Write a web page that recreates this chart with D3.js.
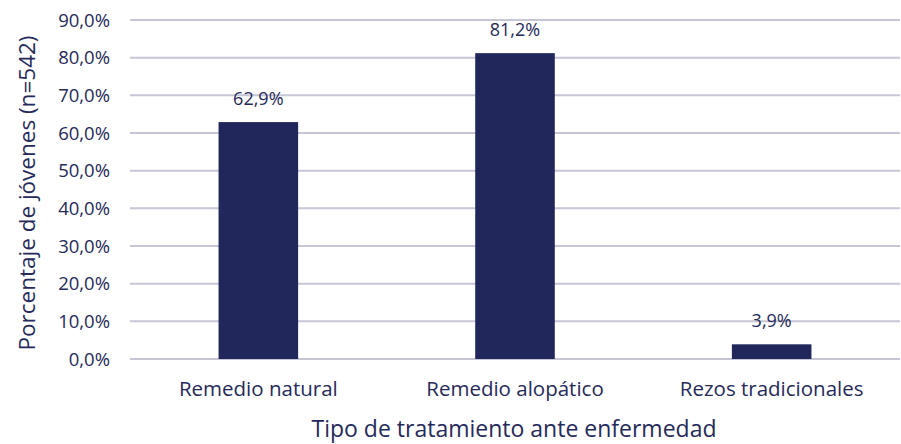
<!DOCTYPE html>
<html>
<head>
<meta charset="utf-8">
<script src="https://cdn.jsdelivr.net/npm/d3@7"></script>
<style>
  body { margin: 0; background: #fff; }
  text { font-family: "Open Sans", sans-serif; fill: #262a5a; }
</style>
</head>
<body>
<div id="chart"></div>
<script>
var categories = ["Remedio natural", "Remedio alopático", "Rezos tradicionales"];
var values = [62.9, 81.2, 3.9];
var valueLabels = ["62,9%", "81,2%", "3,9%"];
var yTicks = [0, 10, 20, 30, 40, 50, 60, 70, 80, 90];

var w_svg = 901, h_svg = 444;
var m_left = 130, m_right = 900, m_top = 20, m_bottom = 359;
var color_bar = "#22275b";

var svg = d3.select("#chart")
  .append("svg")
  .attr("width", w_svg)
  .attr("height", h_svg);

var x = d3.scaleBand().domain(categories).range([m_left, m_right]).paddingInner(0.69).paddingOuter(0.345);
var y = d3.scaleLinear().domain([0, 90]).range([m_bottom, m_top]);

// gridlines
svg.selectAll("line.grid")
  .data(yTicks)
  .enter()
  .append("line")
  .attr("x1", m_left)
  .attr("x2", m_right)
  .attr("y1", function(d) { return y(d) })
  .attr("y2", function(d) { return y(d) })
  .style("stroke", "#c6c6d6")
  .style("stroke-width", "2px");

// y tick labels
svg.selectAll("text.ytick")
  .data(yTicks)
  .enter()
  .append("text")
  .attr("x", 110)
  .attr("y", function(d) { return y(d) + 6.5 })
  .style("text-anchor", "end")
  .style("font-size", "18.5px")
  .style("font-weight", 500)
  .text(function(d) { return d.toFixed(1).replace(".", ",") + "%" });

var bars = d3.range(categories.length);

svg.selectAll("rect")
  .data(bars)
  .enter()
  .append("rect")
  .attr("x", function(i) { return x(categories[i]) })
  .attr("y", function(i) { return y(values[i]) })
  .attr("width", x.bandwidth())
  .attr("height", function(i) { return y(0) - y(values[i]) })
  .style("fill", color_bar);

// value labels
svg.selectAll("text.val")
  .data(bars)
  .enter()
  .append("text")
  .attr("x", function(i) { return x(categories[i]) + x.bandwidth() / 2 })
  .attr("y", function(i) { return y(values[i]) - 17 })
  .style("text-anchor", "middle")
  .style("font-size", "18px")
  .style("font-weight", 500)
  .text(function(i) { return valueLabels[i] });

// category labels
svg.selectAll("text.cat")
  .data(categories)
  .enter()
  .append("text")
  .attr("x", function(d) { return x(d) + x.bandwidth() / 2 })
  .attr("y", 396)
  .style("text-anchor", "middle")
  .style("font-size", "20.5px")
  .style("font-weight", 500)
  .text(function(d) { return d });

// axis titles
svg.append("text")
  .attr("x", 514)
  .attr("y", 437)
  .style("text-anchor", "middle")
  .style("font-size", "23px")
  .style("font-weight", 500)
  .text("Tipo de tratamiento ante enfermedad");

svg.append("text")
  .attr("transform", "translate(35,193) rotate(-90)")
  .style("text-anchor", "middle")
  .style("font-size", "22.5px")
  .style("font-weight", 500)
  .text("Porcentaje de jóvenes (n=542)");
</script>
</body>
</html>
